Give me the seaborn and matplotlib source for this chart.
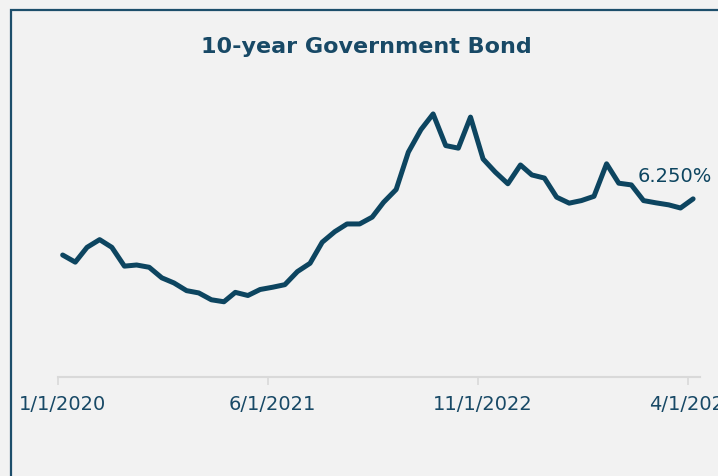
import matplotlib
matplotlib.use("Agg")
import matplotlib.pyplot as plt
import matplotlib.transforms as mtransforms
from matplotlib.patches import Rectangle
import numpy as np
import pandas as pd
import seaborn as sns

# Monthly 10-year government bond yield (%), Jan 2020 - Apr 2024
months = pd.date_range("2020-01-01", periods=52, freq="MS") + pd.Timedelta(days=12)
yields = [
    4.28, 4.03, 4.55, 4.82, 4.55, 3.89, 3.93, 3.85, 3.48, 3.30, 3.03, 2.95,
    2.71, 2.64, 2.97, 2.86, 3.07, 3.15, 3.24, 3.70, 3.99, 4.73, 5.10, 5.37,
    5.37, 5.61, 6.13, 6.58, 7.89, 8.68, 9.23, 8.12, 8.03, 9.12, 7.65, 7.19,
    6.78, 7.44, 7.09, 6.98, 6.31, 6.10, 6.19, 6.34, 7.48, 6.80, 6.74, 6.19,
    6.11, 6.04, 5.93, 6.25,
]
tick_dates = ["2020-01-01", "2021-06-01", "2022-11-01", "2024-04-01"]
tick_labels = ["1/1/2020", "6/1/2021", "11/1/2022", "4/1/2024"]
title = "10-year Government Bond"

NAVY = "#0d4560"
TEXT = "#184966"
BG = "#f2f2f2"
GRID = "#d9d9d9"

sns.set_theme(style="white")
plt.rcParams["font.family"] = ["DejaVu Sans"]

W, H = 718, 477
fig = plt.figure(figsize=(W / 100, H / 100), dpi=100, facecolor=BG)
ax = fig.add_axes([57.8 / W, 99 / H, 642.2 / W, 285 / H])
ax.set_facecolor(BG)

df = pd.DataFrame({"date": months, "yield": yields})
sns.lineplot(data=df, x="date", y="yield", ax=ax, color=NAVY, linewidth=3.6,
             solid_joinstyle="round", solid_capstyle="round")

start = pd.Timestamp("2020-01-01")
ax.set_xlim(start, start + pd.Timedelta(days=1581))
ax.set_ylim(0, 10)
ax.set_xticks(pd.to_datetime(tick_dates))
ax.set_xticklabels(tick_labels)
ax.set_yticks([])
ax.set_xlabel("")
ax.set_ylabel("")

for side in ("left", "right", "top"):
    ax.spines[side].set_visible(False)
ax.spines["bottom"].set_color(GRID)
ax.spines["bottom"].set_linewidth(1.5)
ax.tick_params(axis="x", bottom=True, length=6, width=1.2, color=GRID,
               labelsize=14, labelcolor=TEXT, pad=6)
shift = mtransforms.ScaledTranslation(5 / 100, 0, fig.dpi_scale_trans)
for lbl in ax.get_xticklabels():
    lbl.set_transform(lbl.get_transform() + shift)

# Value label on the latest point
ax.annotate(f"{yields[-1]:.3f}%", xy=(months[-1], yields[-1]),
            xytext=(-18, 23.5), textcoords="offset pixels",
            ha="center", va="center", fontsize=14, color=NAVY,
            annotation_clip=False)

fig.text(366 / W, 1 - 47 / H, title, ha="center", va="center",
         fontsize=16, fontweight="bold", color=TEXT)

# Chart frame
frame = Rectangle((10.5 / W, -0.5), 2.0, (1 - 10.5 / H) + 0.5,
                  transform=fig.transFigure, fill=False,
                  edgecolor="#1d4e6b", linewidth=1.6)
fig.patches.append(frame)

fig.savefig("out.png", dpi=100, facecolor=fig.get_facecolor())
